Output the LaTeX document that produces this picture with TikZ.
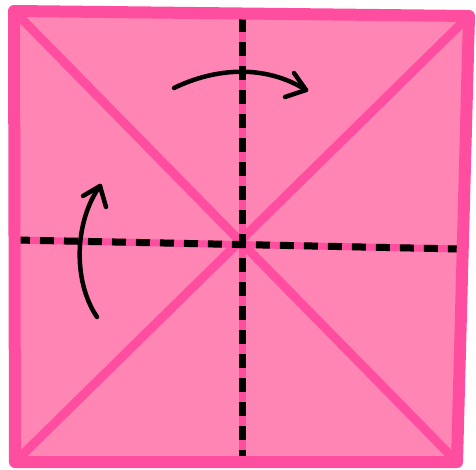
\documentclass[tikz,border=0pt]{standalone}
\usetikzlibrary{arrows.meta}
\definecolor{paper}{RGB}{255,134,180}
\definecolor{crease}{RGB}{255,78,160}
\begin{document}
\begin{tikzpicture}[x=1pt,y=-1pt,
  edge/.style={draw=crease,line width=12pt,line join=round},
  diag/.style={draw=crease,line width=9pt},
  creaseline/.style={draw=crease,line width=7pt},
  fold/.style={draw=black,line width=7pt,dash pattern=on 14pt off 10pt},
  arrowline/.style={draw=black,line width=4.5pt,line cap=round,line join=round}]
\useasboundingbox (0,0) rectangle (476,470);
\coordinate (tl) at (14,11);
\coordinate (tr) at (469,16);
\coordinate (br) at (457,462);
\coordinate (bl) at (15,462);
\coordinate (vt) at (242,14);
\coordinate (vb) at (242,462);
\coordinate (hl) at (12,240);
\coordinate (hr) at (463,249);
\fill[paper] (tl) -- (tr) -- (br) -- (bl) -- cycle;
\draw[diag] (tl) -- (br);
\draw[diag] (tr) -- (bl);
\draw[creaseline] (vt) -- (vb);
\draw[creaseline] (hl) -- (hr);
\draw[fold] (242,18) -- (242,458);
\draw[fold] (16,240) -- (460,249);
\draw[edge] (tl) -- (tr) -- (br) -- (bl) -- cycle;
% top arrow
\coordinate (a1s) at (174,88);
\coordinate (a1e) at (306,90);
\draw[arrowline] (a1s) .. controls (215,68) and (265,64) .. (a1e);
\draw[arrowline] (294,73) -- (a1e) -- (285,97);
% left arrow
\coordinate (a2s) at (97,317);
\coordinate (a2e) at (100,186);
\draw[arrowline] (a2s) .. controls (72,280) and (75,220) .. (a2e);
\draw[arrowline] (83,196) -- (a2e) -- (106,207);
\end{tikzpicture}
\end{document}
